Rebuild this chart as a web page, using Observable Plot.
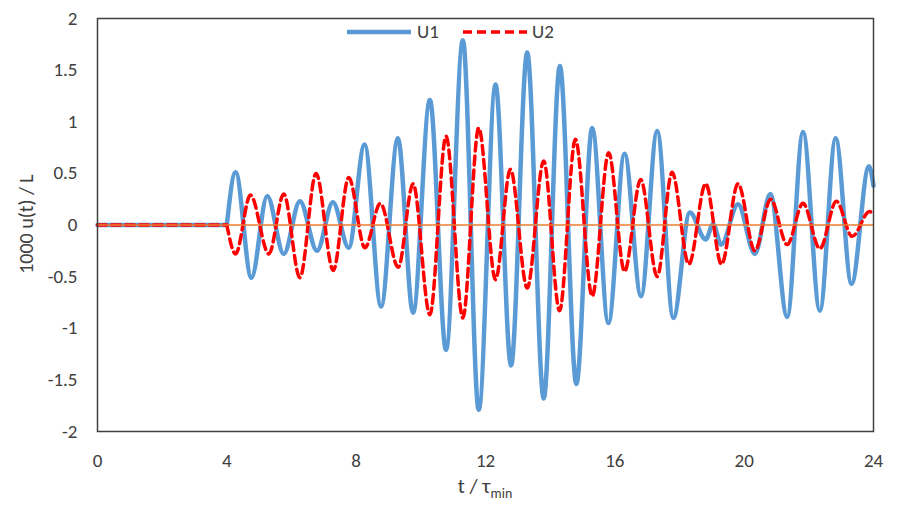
<!DOCTYPE html>
<html>
<head>
<meta charset="utf-8">
<script src="https://cdn.jsdelivr.net/npm/d3@7"></script>
<script src="https://cdn.jsdelivr.net/npm/@observablehq/plot@0.6"></script>
<style>
  html, body { margin: 0; padding: 0; background: #fff; }
  #wrap { position: relative; width: 901px; height: 505px; font-family: Carlito, Lato, "Liberation Sans", sans-serif; }
  #legend { position: absolute; left: 0; top: 0; width: 901px; height: 0; }
  .lg-line { position: absolute; }
  .lg-text { position: absolute; font-size: 19px; color: #404040; line-height: 1; }
</style>
</head>
<body>
<div id="wrap">
  <div id="chart"></div>
  <div id="legend"></div>
</div>
<script>
// ---- data ----
const xTicks = [0, 4, 8, 12, 16, 20, 24];
const yTicks = [-2, -1.5, -1, -0.5, 0, 0.5, 1, 1.5, 2];

// quiet interval before the motion starts
const quietT = [0, 4];
const quietV = [0, 0];

// U1: start, extrema, end
const u1T = [4, 4.27, 4.76, 5.25, 5.76, 6.26, 6.79, 7.28, 7.77, 8.26, 8.77, 9.29, 9.76, 10.28, 10.78,
  11.30, 11.79, 12.31, 12.79, 13.29, 13.80, 14.30, 14.81, 15.30, 15.80, 16.30, 16.81, 17.31, 17.81,
  18.32, 18.81, 19.04, 19.29, 19.81, 20.33, 20.81, 21.33, 21.82, 22.34, 22.83, 23.32, 23.86, 24];
const u1V = [0, 0.51, -0.51, 0.28, -0.28, 0.23, -0.25, 0.22, -0.22, 0.78, -0.79, 0.84, -0.85, 1.21, -1.21,
  1.79, -1.79, 1.36, -1.36, 1.67, -1.68, 1.54, -1.54, 0.94, -0.95, 0.69, -0.69, 0.91, -0.90,
  0.12, -0.14, 0.01, -0.19, 0.20, -0.28, 0.30, -0.89, 0.90, -0.83, 0.84, -0.57, 0.57, 0.38];

// U2: start, extrema, end
const u2T = [4, 4.27, 4.73, 5.30, 5.76, 6.26, 6.76, 7.29, 7.77, 8.27, 8.75, 9.30, 9.76, 10.28, 10.78,
  11.30, 11.79, 12.31, 12.77, 13.29, 13.80, 14.29, 14.78, 15.30, 15.81, 16.30, 16.80, 17.31, 17.77,
  18.29, 18.81, 19.30, 19.81, 20.33, 20.82, 21.33, 21.82, 22.34, 22.85, 23.34, 23.88, 24];
const u2V = [0, -0.28, 0.29, -0.28, 0.30, -0.51, 0.50, -0.44, 0.46, -0.22, 0.21, -0.41, 0.40, -0.87, 0.86,
  -0.90, 0.94, -0.53, 0.54, -0.61, 0.62, -0.83, 0.83, -0.69, 0.70, -0.45, 0.44, -0.50, 0.51,
  -0.38, 0.40, -0.38, 0.40, -0.25, 0.25, -0.19, 0.21, -0.23, 0.23, -0.11, 0.13, 0.10];

const seriesNames = ["U1", "U2"];
const seriesColors = ["#5B9BD5", "#FF0000"];
const zeroColor = "#ED7D31";

// ---- build tables ----
const quiet = quietT.map((t, i) => ({t, v: quietV[i]}));
const u1 = u1T.map((t, i) => ({t, v: u1V[i]}));
const u2 = u2T.map((t, i) => ({t, v: u2V[i]}));

const font = 'Carlito, Lato, "Liberation Sans", sans-serif';
const textColor = "#404040";

const chart = Plot.plot({
  width: 901,
  height: 505,
  marginLeft: 97,
  marginRight: 28,
  marginTop: 18,
  marginBottom: 74,
  style: { fontFamily: font, fontSize: "19px", color: textColor, background: "#fff", overflow: "visible" },
  x: { domain: [0, 24], ticks: xTicks, tickSize: 0, tickPadding: 22, label: null, tickFormat: d => String(d) },
  y: { domain: [-2, 2], ticks: yTicks, tickSize: 0, tickPadding: 20, label: null, tickFormat: d => String(d) },
  marks: [
    Plot.line(quiet, {x: "t", y: "v", stroke: seriesColors[0], strokeWidth: 4.5}),
    Plot.line(u1, {x: "t", y: "v", curve: "monotone-x", stroke: seriesColors[0], strokeWidth: 4.5}),
    Plot.line(quiet, {x: "t", y: "v", stroke: seriesColors[1], strokeWidth: 3.5, strokeDasharray: "9,5"}),
    Plot.line(u2, {x: "t", y: "v", curve: "monotone-x", stroke: seriesColors[1], strokeWidth: 3.5, strokeDasharray: "9,5"}),
    Plot.ruleY([0], {stroke: zeroColor, strokeWidth: 1.5}),
    Plot.frame({stroke: "#404040", strokeWidth: 1.5})
  ]
});
document.getElementById("chart").appendChild(chart);

// axis titles (with subscript)
const svg = d3.select(chart);
const xt = svg.append("text")
  .attr("x", 485).attr("y", 493)
  .attr("text-anchor", "middle")
  .attr("fill", textColor)
  .style("font-family", font).style("font-size", "21px");
xt.append("tspan").text("t / τ");
xt.append("tspan").attr("font-size", "14px").attr("dy", "5").text("min");

svg.append("text")
  .attr("transform", "translate(33,224) rotate(-90)")
  .attr("text-anchor", "middle")
  .attr("fill", textColor)
  .style("font-family", font).style("font-size", "20px")
  .text("1000 u(t) / L");

// legend (overlaid at the top of the plot area)
const legend = d3.select("#legend");
const lgItems = [
  {name: seriesNames[0], color: seriesColors[0], dash: null, lineX: 347, textX: 417},
  {name: seriesNames[1], color: seriesColors[1], dash: "9,5", lineX: 463, textX: 532}
];
lgItems.forEach(it => {
  const s = legend.append("svg").attr("class", "lg-line")
    .style("left", it.lineX + "px").style("top", "27px")
    .attr("width", 64).attr("height", 10);
  s.append("line").attr("x1", 0).attr("x2", 64).attr("y1", 5).attr("y2", 5)
    .attr("stroke", it.color).attr("stroke-width", it.dash ? 3.5 : 4.5)
    .attr("stroke-dasharray", it.dash);
  legend.append("div").attr("class", "lg-text")
    .style("left", it.textX + "px").style("top", "22px")
    .text(it.name);
});
</script>
</body>
</html>
